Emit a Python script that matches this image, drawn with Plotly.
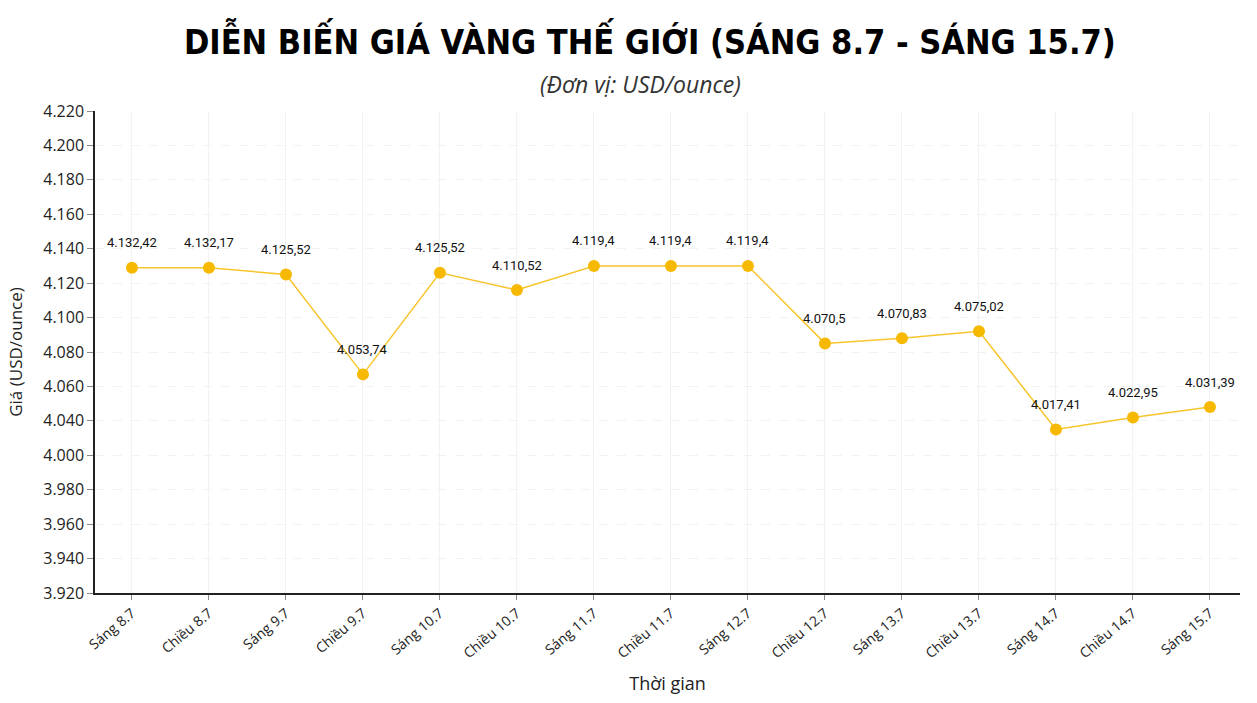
import plotly.graph_objects as go

categories = ["Sáng 8.7", "Chiều 8.7", "Sáng 9.7", "Chiều 9.7", "Sáng 10.7", "Chiều 10.7",
              "Sáng 11.7", "Chiều 11.7", "Sáng 12.7", "Chiều 12.7", "Sáng 13.7", "Chiều 13.7",
              "Sáng 14.7", "Chiều 14.7", "Sáng 15.7"]
# plotted positions (in the axis' own tick scale)
plot_values = [4129, 4129, 4125, 4067, 4126, 4116, 4130, 4130, 4130, 4085, 4088, 4092, 4035, 4042, 4048]
value_labels = ["4.132,42", "4.132,17", "4.125,52", "4.053,74", "4.125,52", "4.110,52",
                "4.119,4", "4.119,4", "4.119,4", "4.070,5", "4.070,83", "4.075,02",
                "4.017,41", "4.022,95", "4.031,39"]
tick_vals = [4220, 4200, 4180, 4160, 4140, 4120, 4100, 4080, 4060, 4040, 4020, 4000, 3980, 3960, 3940]
tick_text = ["4.220", "4.200", "4.180", "4.160", "4.140", "4.120", "4.100", "4.080", "4.060",
             "4.040", "4.000", "3.980", "3.960", "3.940", "3.920"]

LINE = "#F7C52B"
MARK = "#F6B900"
FONT = "Open Sans, Noto Sans, sans-serif"

fig = go.Figure()
fig.add_trace(go.Scatter(
    x=categories, y=plot_values, mode="lines+markers",
    line=dict(color=LINE, width=1.5),
    marker=dict(color=MARK, size=12),
    hoverinfo="skip", showlegend=False,
))

for c, v, t in zip(categories, plot_values, value_labels):
    fig.add_annotation(x=c, y=v, text=t, showarrow=False, yshift=25,
                       font=dict(family="Roboto, sans-serif", size=13, color="#111111"))

fig.update_layout(
    width=1257, height=703,
    margin=dict(l=95, r=17, t=111, b=110),
    paper_bgcolor="white", plot_bgcolor="white",
    title=dict(text="<b>DIỄN BIẾN GIÁ VÀNG THẾ GIỚI (SÁNG 8.7 - SÁNG 15.7)</b>",
               x=0.517, xanchor="center", y=0.94, yanchor="middle",
               font=dict(family="DejaVu Sans Condensed, DejaVu Sans, sans-serif", size=34, color="#000000")),
)
fig.add_annotation(xref="paper", yref="paper", x=0.476, y=1.0, yshift=45, showarrow=False,
                   text="<i>(Đơn vị: USD/ounce)</i>",
                   font=dict(family=FONT, size=23, color="#333333"))

fig.update_xaxes(
    type="category", range=[-0.48, 14.39],
    showline=True, linecolor="#222222", linewidth=1.5,
    ticks="outside", ticklen=5, tickcolor="#888888",
    tickangle=-40, tickfont=dict(family=FONT, size=14, color="#222222"),
    showgrid=True, gridcolor="#F2F2F2", gridwidth=1,
    title=dict(text="Thời gian", font=dict(family=FONT, size=18, color="#222222"), standoff=16),
)
fig.update_yaxes(
    range=[3940, 4220], tickvals=tick_vals, ticktext=tick_text,
    showline=True, linecolor="#222222", linewidth=1.5,
    ticks="outside", ticklen=6, tickcolor="#888888",
    tickfont=dict(family=FONT, size=16, color="#222222"),
    showgrid=True, gridcolor="#F2F2F2", gridwidth=1, griddash="dash",
    zeroline=False,
    title=dict(text="Giá (USD/ounce)", font=dict(family=FONT, size=17, color="#222222"), standoff=16),
)

fig.write_html("out.html")
